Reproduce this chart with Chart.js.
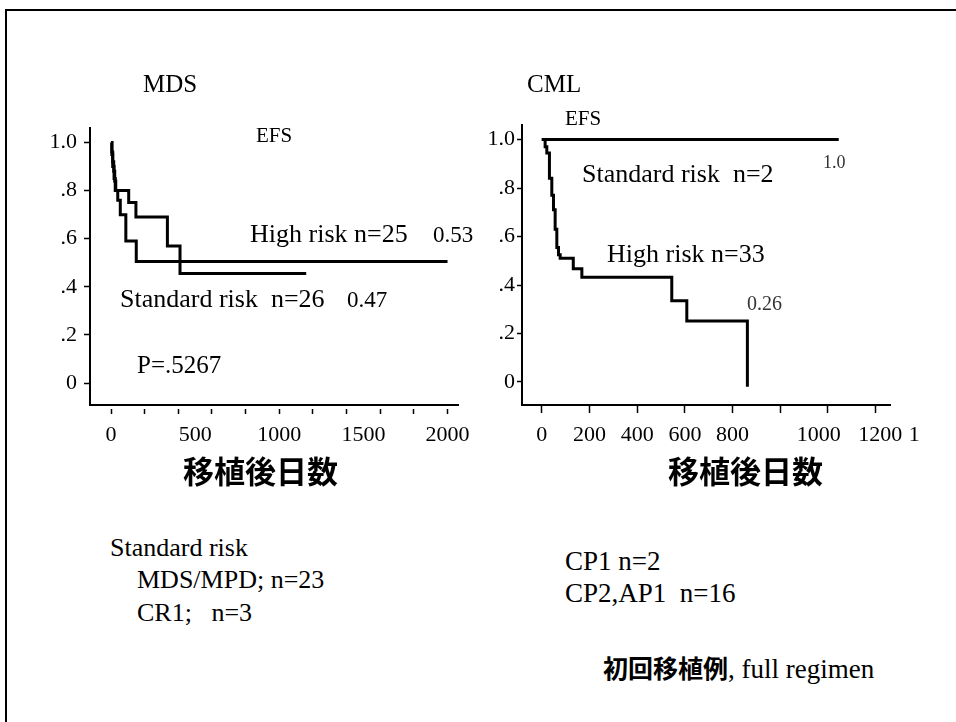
<!DOCTYPE html>
<html><head><meta charset="utf-8">
<script src="https://cdn.jsdelivr.net/npm/chart.js@4/dist/chart.umd.min.js"></script>
<style>
html,body{margin:0;padding:0;background:#fff;}
body{width:956px;height:722px;position:relative;overflow:hidden;font-family:"Liberation Serif","Times New Roman",serif;color:#000;}
.frame{position:absolute;left:5px;top:9px;width:1000px;height:800px;border-left:2px solid #000;border-top:2px solid #000;}
canvas{position:absolute;top:0;}
.t{position:absolute;white-space:pre;line-height:1;font-size:26px;}
.cjk{font-family:"Noto Sans CJK JP";font-weight:700;}
</style></head><body>
<div class="frame"></div>
<canvas id="mds" width="478" height="470" style="left:0px"></canvas>
<canvas id="cml" width="478" height="470" style="left:478px"></canvas>

<div class="t" style="left:143px;top:71px;font-size:25px">MDS</div>
<div class="t" style="left:527px;top:71px;font-size:25px">CML</div>
<div class="t" style="left:256px;top:125px;font-size:21px">EFS</div>
<div class="t" style="left:565px;top:108px;font-size:21px">EFS</div>
<div class="t" style="left:250px;top:221px">High risk n=25</div>
<div class="t" style="left:433px;top:223px;font-size:23px">0.53</div>
<div class="t" style="left:120px;top:286px">Standard risk  n=26</div>
<div class="t" style="left:347px;top:288px;font-size:23px">0.47</div>
<div class="t" style="left:137px;top:352px;font-size:25px">P=.5267</div>
<div class="t" style="left:582px;top:161px">Standard risk  n=2</div>
<div class="t" style="left:823px;top:153px;font-size:18px;color:#333">1.0</div>
<div class="t" style="left:607px;top:241px">High risk n=33</div>
<div class="t" style="left:747px;top:293px;font-size:20px;color:#333">0.26</div>
<div class="t cjk" style="left:183px;top:454px;font-size:31px">移植後日数</div>
<div class="t cjk" style="left:668px;top:454px;font-size:31px">移植後日数</div>
<div class="t" style="left:110px;top:535px">Standard risk</div>
<div class="t" style="left:137px;top:567px">MDS/MPD; n=23</div>
<div class="t" style="left:137px;top:600px">CR1;   n=3</div>
<div class="t" style="left:565px;top:548px;font-size:27px">CP1 n=2</div>
<div class="t" style="left:565px;top:580px;font-size:27px">CP2,AP1  n=16</div>
<div class="t" style="left:603px;top:655px;font-size:27px"><span class="cjk" style="font-size:25px">初回移植例</span>, full regimen</div>

<script>
// ---- data ----
const yTickValues = [0, 0.2, 0.4, 0.6, 0.8, 1.0];
const yTickLabels = ["0", ".2", ".4", ".6", ".8", "1.0"];

const mdsXTicks  = [0, 200, 400, 500, 600, 800, 1000, 1200, 1400, 1500, 1600, 1800, 2000];
const mdsXLabels = [0, 500, 1000, 1500, 2000];
const mdsHighDays = [0, 5, 10, 16, 22, 28, 40, 55, 88, 150, 2000];
const mdsHighEfs  = [1.0, 0.96, 0.92, 0.88, 0.84, 0.80, 0.76, 0.70, 0.59, 0.505, 0.505];
const mdsStdDays  = [0, 5, 10, 18, 25, 105, 148, 335, 410, 1160];
const mdsStdEfs   = [1.0, 0.95, 0.90, 0.85, 0.80, 0.75, 0.69, 0.57, 0.455, 0.455];

const cmlXTicks  = [0, 200, 400, 600, 800, 1000, 1200, 1400];
const cmlXLabels = ["0", "200", "400", "600", "800", "1000", "1200", "1"];
// the original prints the last labels a little right of their ticks
const cmlXLabelShift = [0, 0, 0, 0, 0, 14, 19, 14];
const cmlStdDays = [0, 1245];
const cmlStdEfs  = [1.0, 1.0];
const cmlHighDays = [0, 14, 21, 32, 42, 49, 56, 63, 70, 77, 132, 168, 545, 608, 862];
const cmlHighEfs  = [1.0, 0.97, 0.945, 0.84, 0.77, 0.71, 0.63, 0.555, 0.525, 0.51, 0.467, 0.432, 0.335, 0.251, -0.02];

// ---- drawing ----
const FONT = "Liberation Serif";
Chart.defaults.font.family = FONT;
Chart.defaults.color = '#000';
const pts = (xs, ys) => xs.map((x, i) => ({x: x, y: ys[i]}));
const line = (xs, ys) => ({
  data: pts(xs, ys), borderColor: '#000', borderWidth: 3, pointRadius: 0,
  stepped: 'before', tension: 0, fill: false
});

function makeChart(id, datasets, o) {
  return new Chart(document.getElementById(id), {
    type: 'line',
    data: {datasets: datasets},
    options: {
      responsive: false, animation: false, devicePixelRatio: 1,
      layout: {padding: o.pad},
      plugins: {legend: {display: false}, tooltip: {enabled: false}},
      scales: {
        x: {
          type: 'linear', min: o.xmin, max: o.xmax,
          afterBuildTicks: s => { s.ticks = o.xTicks.map(v => ({value: v})); },
          afterFit: s => { s.height = 50; },
          ticks: {autoSkip: false, maxRotation: 0, padding: o.xPad, color: '#000',
                  font: {family: FONT, size: 22}, callback: o.xLabel},
          grid: {drawOnChartArea: false, tickLength: o.xTickLen, tickWidth: 1.5,
                 tickColor: o.xTickColor, tickBorderDash: o.xDash},
          border: {color: '#000', width: 2}
        },
        y: {
          type: 'linear', min: o.ymin, max: o.ymax,
          afterBuildTicks: s => { s.ticks = yTickValues.map(v => ({value: v})); },
          afterFit: s => { s.width = o.yWidth; },
          ticks: {autoSkip: false, padding: 2, color: '#000', font: {family: FONT, size: 22},
                  callback: (v, i) => yTickLabels[i]},
          grid: {drawOnChartArea: false, tickLength: o.yTickLen, tickWidth: 1.5, color: '#000',
                 tickBorderDash: o.yDash},
          border: {color: '#000', width: 2}
        }
      }
    }
  });
}

makeChart('mds', [line(mdsHighDays, mdsHighEfs), line(mdsStdDays, mdsStdEfs)], {
  pad: {top: 128, right: 15, bottom: 15, left: 0},
  xmin: -125, xmax: 2068, ymin: -0.091, ymax: 1.06,
  xTicks: mdsXTicks, xPad: 8, xTickLen: 9, xDash: [0, 3, 6, 40],
  xTickColor: c => (c.tick && c.tick.value % 200 === 0) ? '#000' : 'rgba(0,0,0,0)',
  xLabel: v => mdsXLabels.includes(v) ? String(v) : '',
  yWidth: 90, yTickLen: 11, yDash: [0, 5, 6, 40]
});

makeChart('cml', [line(cmlStdDays, cmlStdEfs), line(cmlHighDays, cmlHighEfs)], {
  pad: {top: 125, right: 66, bottom: 15, left: 0},
  xmin: -83, xmax: 1460, ymin: -0.095, ymax: 1.06,
  xTicks: cmlXTicks, xPad: 9, xTickLen: 8, xDash: [],
  xTickColor: '#000',
  xLabel: (v, i) => ' '.repeat(cmlXLabelShift[i]) + cmlXLabels[i],
  yWidth: 44, yTickLen: 5, yDash: []
});
</script>
</body></html>
